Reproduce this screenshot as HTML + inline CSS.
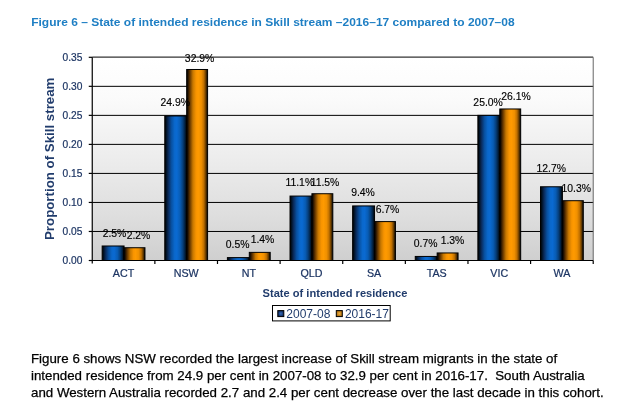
<!DOCTYPE html>
<html><head><meta charset="utf-8"><style>
html,body{margin:0;padding:0;background:#fff;}
body{width:637px;height:410px;overflow:hidden;position:relative;font-family:"Liberation Sans",Arial,sans-serif;}
.para{position:absolute;left:31px;top:350.8px;font-size:13.3px;color:#000;-webkit-text-stroke:0.25px #000;line-height:16.8px;white-space:nowrap;}
svg{position:absolute;left:0;top:0;will-change:transform;}
.para{will-change:transform;}
svg text{font-family:"Liberation Sans",Arial,sans-serif;}
.tt{font-size:12px;font-weight:bold;fill:#1f7fc4;}
.yl{font-size:10.2px;fill:#1d3563;stroke:#1d3563;stroke-width:0.22px;}
.xl{font-size:10.7px;fill:#1d3563;stroke:#1d3563;stroke-width:0.22px;}
.dl{font-size:10.4px;fill:#000;stroke:#000;stroke-width:0.15px;}
.xt{font-size:11.1px;font-weight:bold;fill:#213c6c;}
.yt{font-size:13.3px;font-weight:bold;fill:#213c6c;}
.lg{font-size:12px;fill:#213c6c;}
</style></head><body>
<svg width="637" height="410" viewBox="0 0 637 410">
<defs>
<linearGradient id="bg" x1="0" y1="0" x2="0" y2="1"><stop offset="0" stop-color="#ffffff"/><stop offset="0.2" stop-color="#fbfbfb"/><stop offset="0.36" stop-color="#f3f3f3"/><stop offset="0.51" stop-color="#ececec"/><stop offset="0.78" stop-color="#dedede"/><stop offset="0.94" stop-color="#d3d3d3"/><stop offset="1" stop-color="#cfcfcf"/></linearGradient>
<linearGradient id="gb" x1="0" y1="0" x2="1" y2="0"><stop offset="0" stop-color="#000000"/><stop offset="0.06" stop-color="#001020"/><stop offset="0.16" stop-color="#0a2a5a"/><stop offset="0.3" stop-color="#0850a0"/><stop offset="0.45" stop-color="#0a68cc"/><stop offset="0.55" stop-color="#0a6ad2"/><stop offset="0.7" stop-color="#085cb4"/><stop offset="0.82" stop-color="#06407e"/><stop offset="0.92" stop-color="#02203f"/><stop offset="1" stop-color="#000000"/></linearGradient>
<linearGradient id="go" x1="0" y1="0" x2="1" y2="0"><stop offset="0" stop-color="#000000"/><stop offset="0.06" stop-color="#201000"/><stop offset="0.16" stop-color="#6a3a00"/><stop offset="0.3" stop-color="#c87800"/><stop offset="0.45" stop-color="#f89400"/><stop offset="0.55" stop-color="#ff9a00"/><stop offset="0.7" stop-color="#f09000"/><stop offset="0.82" stop-color="#c07000"/><stop offset="0.92" stop-color="#603800"/><stop offset="1" stop-color="#000000"/></linearGradient>
<radialGradient id="lb"><stop offset="0" stop-color="#3a6cb8"/><stop offset="1" stop-color="#0c2a60"/></radialGradient>
<radialGradient id="lo"><stop offset="0" stop-color="#f0b040"/><stop offset="1" stop-color="#a86a10"/></radialGradient>
</defs>
<rect x="92.25" y="57.3" width="500.96000000000004" height="203.2" fill="url(#bg)"/>
<line x1="92.25" y1="231.47" x2="593.21" y2="231.47" stroke="#000" stroke-width="1"/>
<line x1="92.25" y1="202.44" x2="593.21" y2="202.44" stroke="#000" stroke-width="1"/>
<line x1="92.25" y1="173.41" x2="593.21" y2="173.41" stroke="#000" stroke-width="1"/>
<line x1="92.25" y1="144.39" x2="593.21" y2="144.39" stroke="#000" stroke-width="1"/>
<line x1="92.25" y1="115.36" x2="593.21" y2="115.36" stroke="#000" stroke-width="1"/>
<line x1="92.25" y1="86.33" x2="593.21" y2="86.33" stroke="#000" stroke-width="1"/>
<line x1="92.25" y1="57.10" x2="593.21" y2="57.10" stroke="#000" stroke-width="1"/>
<line x1="593.21" y1="57.3" x2="593.21" y2="260.5" stroke="#666" stroke-width="1"/>
<rect x="102.16" y="245.99" width="21.90" height="14.51" fill="url(#gb)" stroke="#000" stroke-width="1"/>
<rect x="124.06" y="247.73" width="20.90" height="12.77" fill="url(#go)" stroke="#000" stroke-width="1"/>
<rect x="164.78" y="115.94" width="21.90" height="144.56" fill="url(#gb)" stroke="#000" stroke-width="1"/>
<rect x="186.68" y="69.49" width="20.90" height="191.01" fill="url(#go)" stroke="#000" stroke-width="1"/>
<rect x="227.40" y="257.60" width="21.90" height="2.90" fill="url(#gb)" stroke="#000" stroke-width="1"/>
<rect x="249.30" y="252.37" width="20.90" height="8.13" fill="url(#go)" stroke="#000" stroke-width="1"/>
<rect x="290.02" y="196.06" width="21.90" height="64.44" fill="url(#gb)" stroke="#000" stroke-width="1"/>
<rect x="311.92" y="193.73" width="20.90" height="66.77" fill="url(#go)" stroke="#000" stroke-width="1"/>
<rect x="352.64" y="205.93" width="21.90" height="54.57" fill="url(#gb)" stroke="#000" stroke-width="1"/>
<rect x="374.54" y="221.60" width="20.90" height="38.90" fill="url(#go)" stroke="#000" stroke-width="1"/>
<rect x="415.26" y="256.44" width="21.90" height="4.06" fill="url(#gb)" stroke="#000" stroke-width="1"/>
<rect x="437.16" y="252.95" width="20.90" height="7.55" fill="url(#go)" stroke="#000" stroke-width="1"/>
<rect x="477.88" y="115.36" width="21.90" height="145.14" fill="url(#gb)" stroke="#000" stroke-width="1"/>
<rect x="499.78" y="108.97" width="20.90" height="151.53" fill="url(#go)" stroke="#000" stroke-width="1"/>
<rect x="540.50" y="186.77" width="21.90" height="73.73" fill="url(#gb)" stroke="#000" stroke-width="1"/>
<rect x="562.40" y="200.70" width="20.90" height="59.80" fill="url(#go)" stroke="#000" stroke-width="1"/>
<line x1="92.25" y1="57.3" x2="92.25" y2="263.5" stroke="#000" stroke-width="1.2"/>
<line x1="89.25" y1="260.5" x2="593.21" y2="260.5" stroke="#000" stroke-width="1.2"/>
<line x1="88.75" y1="260.50" x2="92.25" y2="260.50" stroke="#000" stroke-width="1.2"/>
<line x1="88.75" y1="231.47" x2="92.25" y2="231.47" stroke="#000" stroke-width="1.2"/>
<line x1="88.75" y1="202.44" x2="92.25" y2="202.44" stroke="#000" stroke-width="1.2"/>
<line x1="88.75" y1="173.41" x2="92.25" y2="173.41" stroke="#000" stroke-width="1.2"/>
<line x1="88.75" y1="144.39" x2="92.25" y2="144.39" stroke="#000" stroke-width="1.2"/>
<line x1="88.75" y1="115.36" x2="92.25" y2="115.36" stroke="#000" stroke-width="1.2"/>
<line x1="88.75" y1="86.33" x2="92.25" y2="86.33" stroke="#000" stroke-width="1.2"/>
<line x1="88.75" y1="57.30" x2="92.25" y2="57.30" stroke="#000" stroke-width="1.2"/>
<line x1="154.87" y1="260.5" x2="154.87" y2="264.0" stroke="#000" stroke-width="1.2"/>
<line x1="217.49" y1="260.5" x2="217.49" y2="264.0" stroke="#000" stroke-width="1.2"/>
<line x1="280.11" y1="260.5" x2="280.11" y2="264.0" stroke="#000" stroke-width="1.2"/>
<line x1="342.73" y1="260.5" x2="342.73" y2="264.0" stroke="#000" stroke-width="1.2"/>
<line x1="405.35" y1="260.5" x2="405.35" y2="264.0" stroke="#000" stroke-width="1.2"/>
<line x1="467.97" y1="260.5" x2="467.97" y2="264.0" stroke="#000" stroke-width="1.2"/>
<line x1="530.59" y1="260.5" x2="530.59" y2="264.0" stroke="#000" stroke-width="1.2"/>
<line x1="593.21" y1="260.5" x2="593.21" y2="264.0" stroke="#000" stroke-width="1.2"/>
<text x="82.3" y="264.10" class="yl" text-anchor="end">0.00</text>
<text x="82.3" y="235.07" class="yl" text-anchor="end">0.05</text>
<text x="82.3" y="206.04" class="yl" text-anchor="end">0.10</text>
<text x="82.3" y="177.01" class="yl" text-anchor="end">0.15</text>
<text x="82.3" y="147.99" class="yl" text-anchor="end">0.20</text>
<text x="82.3" y="118.96" class="yl" text-anchor="end">0.25</text>
<text x="82.3" y="89.93" class="yl" text-anchor="end">0.30</text>
<text x="82.3" y="60.90" class="yl" text-anchor="end">0.35</text>
<text x="123.56" y="276.8" class="xl" text-anchor="middle">ACT</text>
<text x="186.18" y="276.8" class="xl" text-anchor="middle">NSW</text>
<text x="248.80" y="276.8" class="xl" text-anchor="middle">NT</text>
<text x="311.42" y="276.8" class="xl" text-anchor="middle">QLD</text>
<text x="374.04" y="276.8" class="xl" text-anchor="middle">SA</text>
<text x="436.66" y="276.8" class="xl" text-anchor="middle">TAS</text>
<text x="499.28" y="276.8" class="xl" text-anchor="middle">VIC</text>
<text x="561.90" y="276.8" class="xl" text-anchor="middle">WA</text>
<text x="114.50" y="237.00" class="dl" text-anchor="middle">2.5%</text>
<text x="175.30" y="105.70" class="dl" text-anchor="middle">24.9%</text>
<text x="237.70" y="247.70" class="dl" text-anchor="middle">0.5%</text>
<text x="299.80" y="185.90" class="dl" text-anchor="middle">11.1%</text>
<text x="363.00" y="195.90" class="dl" text-anchor="middle">9.4%</text>
<text x="425.70" y="246.60" class="dl" text-anchor="middle">0.7%</text>
<text x="488.10" y="105.70" class="dl" text-anchor="middle">25.0%</text>
<text x="551.20" y="171.70" class="dl" text-anchor="middle">12.7%</text>
<text x="138.50" y="238.70" class="dl" text-anchor="middle">2.2%</text>
<text x="199.60" y="62.00" class="dl" text-anchor="middle">32.9%</text>
<text x="262.50" y="242.80" class="dl" text-anchor="middle">1.4%</text>
<text x="325.00" y="185.90" class="dl" text-anchor="middle">11.5%</text>
<text x="387.50" y="212.90" class="dl" text-anchor="middle">6.7%</text>
<text x="452.50" y="243.90" class="dl" text-anchor="middle">1.3%</text>
<text x="516.00" y="99.80" class="dl" text-anchor="middle">26.1%</text>
<text x="576.20" y="191.80" class="dl" text-anchor="middle">10.3%</text>
<text transform="translate(335,296.7) scale(1,0.97)" class="xt" text-anchor="middle">State of intended residence</text>
<text transform="translate(54.3,158.8) rotate(-90) scale(1,0.9)" class="yt" text-anchor="middle">Proportion of Skill stream</text>
<text transform="translate(31.2,25.6) scale(1,0.91)" class="tt">Figure 6 – State of intended residence in Skill stream –2016–17 compared to 2007–08</text>
<rect x="272.5" y="305.5" width="117.7" height="15.4" fill="#fff" stroke="#000" stroke-width="1"/>
<rect x="277.8" y="310.6" width="6" height="6" fill="url(#lb)" stroke="#000" stroke-width="1"/>
<text transform="translate(286.3,317.7)" class="lg">2007-08</text>
<rect x="336.3" y="310.6" width="6" height="6" fill="url(#lo)" stroke="#000" stroke-width="1"/>
<text transform="translate(344.9,317.7)" class="lg">2016-17</text>
</svg>
<div class="para">Figure 6 shows NSW recorded the largest increase of Skill stream migrants in the state of<br>intended residence from 24.9 per cent in 2007-08 to 32.9 per cent in 2016-17.&nbsp; South Australia<br>and Western Australia recorded 2.7 and 2.4 per cent decrease over the last decade in this cohort.</div>
</body></html>
